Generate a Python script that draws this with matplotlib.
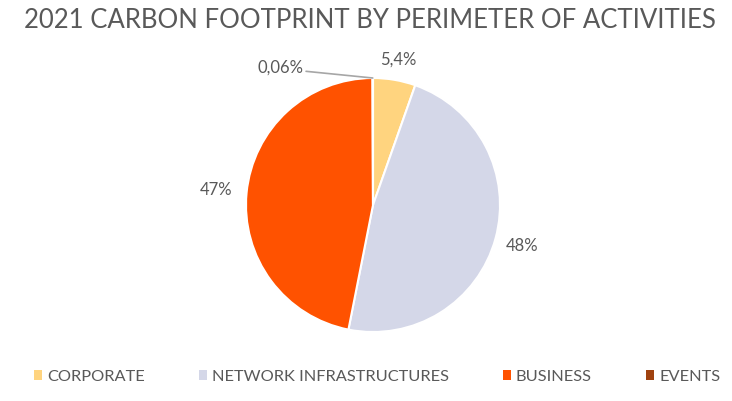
import numpy as np
import matplotlib.pyplot as plt
from matplotlib.patches import Patch

plt.rcParams['font.family'] = ['Lato', 'DejaVu Sans']

categories = ['CORPORATE', 'NETWORK INFRASTRUCTURES', 'BUSINESS', 'EVENTS']
values = [5.4, 47.7, 46.84, 0.06]
labels = ['5,4%', '48%', '47%', '0,06%']
colors = ['#FFD47F', '#D4D7E8', '#FF5200', '#A0420F']
title = '2021 CARBON FOOTPRINT BY PERIMETER OF ACTIVITIES'

TXT = '#595959'

fig = plt.figure(figsize=(7.32, 4.01), dpi=100)
ax = fig.add_axes([(373 - 127) / 732, (401 - 205 - 127) / 401, 254 / 732, 254 / 401])

wedges, _ = ax.pie(values, colors=colors, startangle=90, counterclock=False,
                   radius=1, wedgeprops=dict(edgecolor='white', linewidth=1.5))
ax.set_xlim(-1, 1)
ax.set_ylim(-1, 1)
ax.set_aspect('equal')

# data labels outside the pie
dist = [1.16, 1.22, 1.24]
for w, lab, d in zip(wedges[:3], labels[:3], dist):
    ang = np.deg2rad((w.theta1 + w.theta2) / 2)
    ax.text(d * np.cos(ang), d * np.sin(ang), lab, ha='center', va='center',
            fontsize=12, color=TXT)

# tiny slice label with leader line
ang = np.deg2rad((wedges[3].theta1 + wedges[3].theta2) / 2)
ax.annotate(labels[3], xy=(np.cos(ang), np.sin(ang)), xytext=(-0.73, 1.08),
            ha='center', va='center', fontsize=12, color=TXT,
            arrowprops=dict(arrowstyle='-', color='#A6A6A6', lw=1.2,
                            shrinkA=0, shrinkB=0, relpos=(1, 0.3)))

fig.text(0.505, 0.95, title, ha='center', va='center', fontsize=18.5, color=TXT)

handles = [Patch(facecolor=c, edgecolor='none') for c in colors]
fig.legend(handles, categories, loc='center', bbox_to_anchor=(0.515, 0.06), ncol=4,
           frameon=False, fontsize=11.8, labelcolor=TXT, handlelength=0.5,
           handleheight=0.5, handletextpad=0.3, columnspacing=3.3)

fig.savefig('out.png', dpi=100)
